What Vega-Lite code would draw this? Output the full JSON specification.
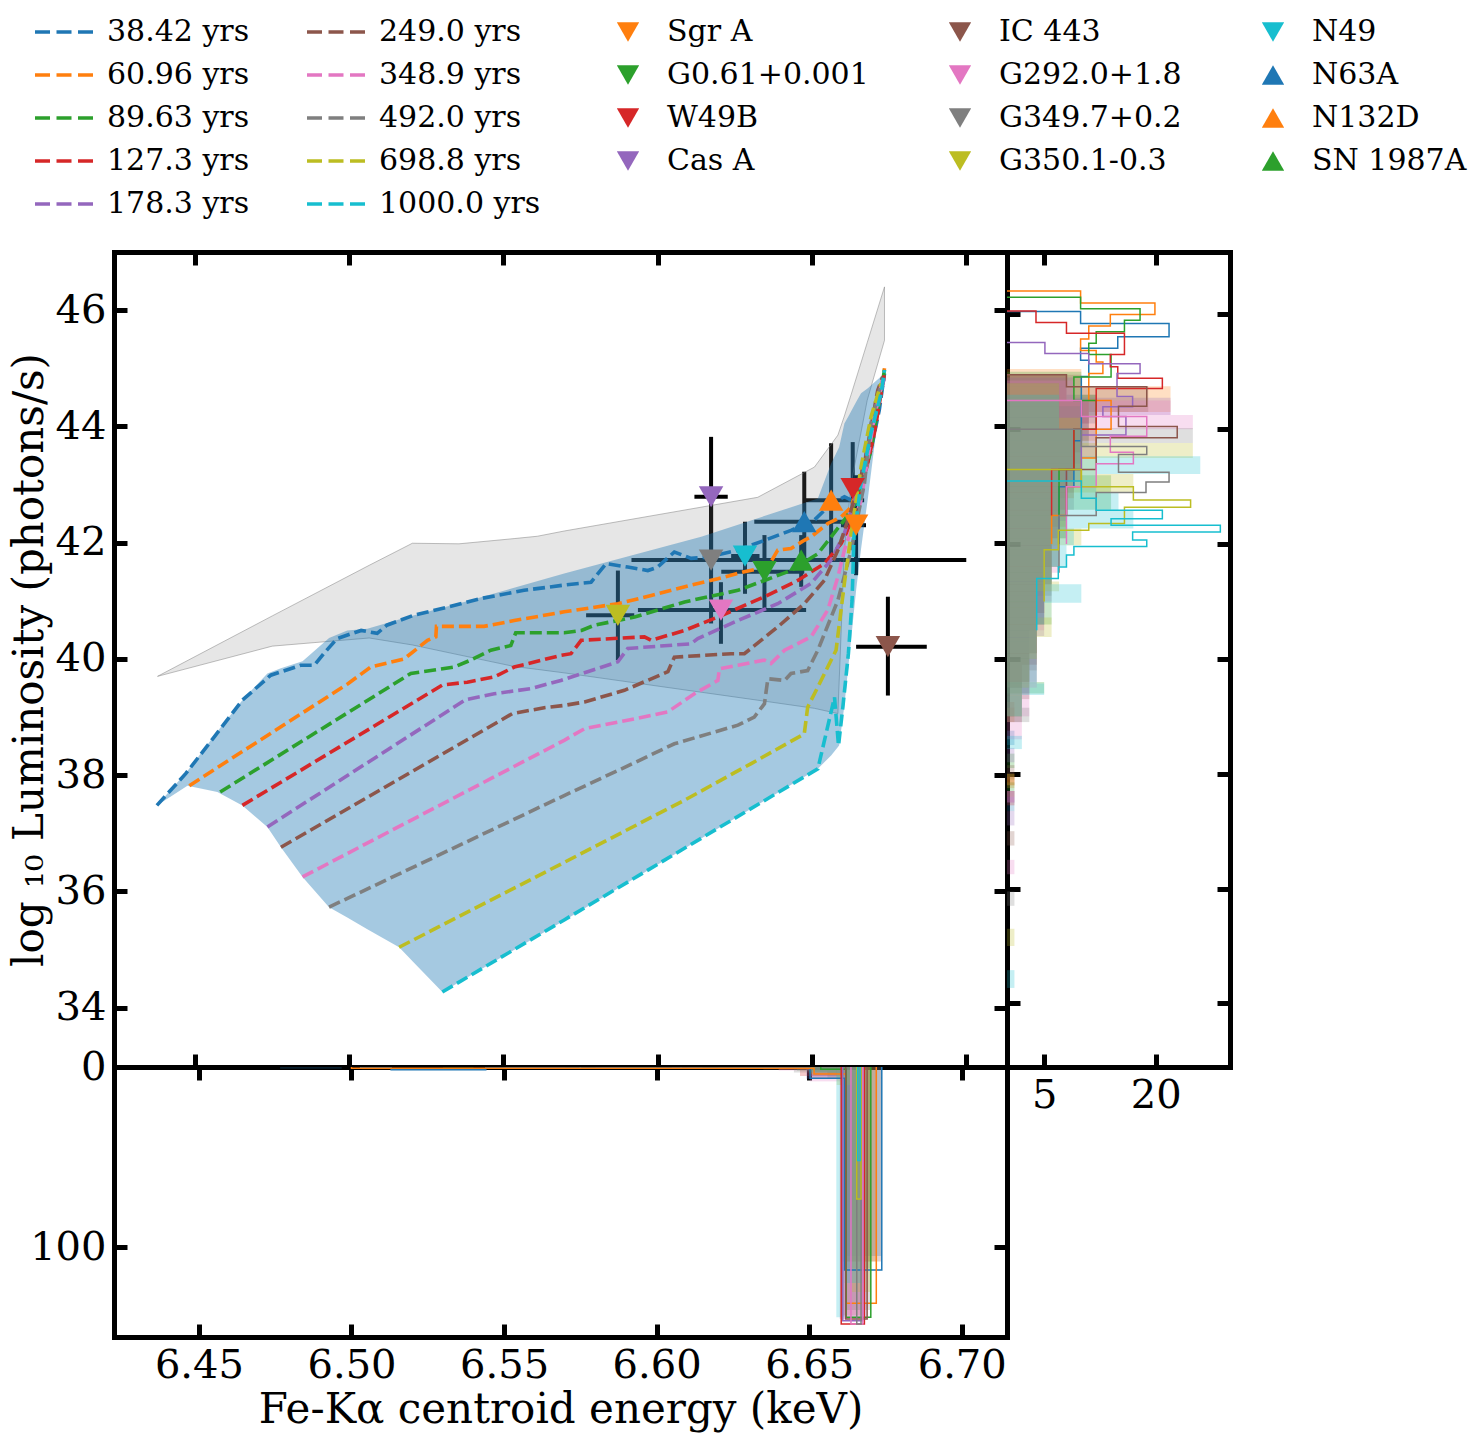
{
"$schema": "https://vega.github.io/schema/vega-lite/v6.json",
"padding": {"left": 8, "top": 17, "right": 5, "bottom": 5},
"background": "white",
"columns": 2,
"spacing": 0,
"bounds": "flush",
"config": {
  "font": "DejaVu Serif",
  "view": {"stroke": null},
  "axis": {"domain": true, "domainColor": "black", "domainWidth": 5, "domainCap": "square", "grid": false, "ticks": true, "tickColor": "black", "tickWidth": 5, "tickSize": -13, "labelFont": "DejaVu Serif", "labelFontSize": 40, "labelColor": "black", "labelPadding": 21, "labelFlush": false, "labelOverlap": false, "titleFont": "DejaVu Serif", "titleFontSize": 42, "titleFontWeight": "normal", "titleColor": "black", "zindex": 1, "minExtent": 0},
  "legend": {"labelFont": "DejaVu Serif", "labelFontSize": 30, "labelColor": "black", "labelLimit": 600, "padding": 0}
},
"datasets": {
"lines": [
{"m":"38.42 yrs","E":6.4377,"L":37.48},{"m":"38.42 yrs","E":6.4471,"L":38.03},{"m":"38.42 yrs","E":6.4563,"L":38.66},{"m":"38.42 yrs","E":6.4654,"L":39.29},{"m":"38.42 yrs","E":6.4746,"L":39.72},{"m":"38.42 yrs","E":6.4843,"L":39.89},{"m":"38.42 yrs","E":6.4887,"L":39.89},{"m":"38.42 yrs","E":6.4919,"L":40.10},{"m":"38.42 yrs","E":6.4961,"L":40.35},{"m":"38.42 yrs","E":6.5039,"L":40.49},{"m":"38.42 yrs","E":6.5091,"L":40.44},{"m":"38.42 yrs","E":6.5122,"L":40.58},{"m":"38.42 yrs","E":6.5209,"L":40.75},{"m":"38.42 yrs","E":6.5319,"L":40.89},{"m":"38.42 yrs","E":6.5428,"L":41.04},{"m":"38.42 yrs","E":6.5567,"L":41.18},{"m":"38.42 yrs","E":6.5697,"L":41.27},{"m":"38.42 yrs","E":6.5784,"L":41.32},{"m":"38.42 yrs","E":6.5833,"L":41.64},{"m":"38.42 yrs","E":6.5903,"L":41.58},{"m":"38.42 yrs","E":6.5968,"L":41.52},{"m":"38.42 yrs","E":6.6000,"L":41.58},{"m":"38.42 yrs","E":6.6054,"L":41.84},{"m":"38.42 yrs","E":6.6108,"L":41.73},{"m":"38.42 yrs","E":6.6162,"L":41.75},{"m":"38.42 yrs","E":6.6260,"L":41.87},{"m":"38.42 yrs","E":6.6346,"L":42.04},{"m":"38.42 yrs","E":6.6432,"L":42.21},{"m":"38.42 yrs","E":6.6508,"L":42.39},{"m":"38.42 yrs","E":6.6562,"L":42.67},{"m":"38.42 yrs","E":6.6605,"L":42.79},{"m":"38.42 yrs","E":6.6627,"L":42.73},{"m":"38.42 yrs","E":6.6659,"L":43.02},{"m":"38.42 yrs","E":6.6691,"L":43.59},{"m":"38.42 yrs","E":6.6718,"L":44.28},{"m":"38.42 yrs","E":6.6735,"L":44.91},
{"m":"60.96 yrs","E":6.4482,"L":37.82},{"m":"60.96 yrs","E":6.4995,"L":39.57},{"m":"60.96 yrs","E":6.5070,"L":39.86},{"m":"60.96 yrs","E":6.5178,"L":40.00},{"m":"60.96 yrs","E":6.5254,"L":40.32},{"m":"60.96 yrs","E":6.5281,"L":40.38},{"m":"60.96 yrs","E":6.5283,"L":40.56},{"m":"60.96 yrs","E":6.5437,"L":40.56},{"m":"60.96 yrs","E":6.5535,"L":40.66},{"m":"60.96 yrs","E":6.5697,"L":40.81},{"m":"60.96 yrs","E":6.5871,"L":40.95},{"m":"60.96 yrs","E":6.5979,"L":41.09},{"m":"60.96 yrs","E":6.6108,"L":41.27},{"m":"60.96 yrs","E":6.6195,"L":41.38},{"m":"60.96 yrs","E":6.6281,"L":41.50},{"m":"60.96 yrs","E":6.6357,"L":41.58},{"m":"60.96 yrs","E":6.6389,"L":41.87},{"m":"60.96 yrs","E":6.6432,"L":41.90},{"m":"60.96 yrs","E":6.6475,"L":42.04},{"m":"60.96 yrs","E":6.6497,"L":42.10},{"m":"60.96 yrs","E":6.6551,"L":42.33},{"m":"60.96 yrs","E":6.6594,"L":42.44},{"m":"60.96 yrs","E":6.6627,"L":42.61},{"m":"60.96 yrs","E":6.6681,"L":43.59},{"m":"60.96 yrs","E":6.6713,"L":44.28},{"m":"60.96 yrs","E":6.6735,"L":45.00},
{"m":"89.63 yrs","E":6.4582,"L":37.71},{"m":"89.63 yrs","E":6.5200,"L":39.75},{"m":"89.63 yrs","E":6.5265,"L":39.80},{"m":"89.63 yrs","E":6.5340,"L":39.86},{"m":"89.63 yrs","E":6.5394,"L":39.98},{"m":"89.63 yrs","E":6.5459,"L":40.15},{"m":"89.63 yrs","E":6.5524,"L":40.23},{"m":"89.63 yrs","E":6.5540,"L":40.45},{"m":"89.63 yrs","E":6.5697,"L":40.45},{"m":"89.63 yrs","E":6.5753,"L":40.49},{"m":"89.63 yrs","E":6.5795,"L":40.58},{"m":"89.63 yrs","E":6.5925,"L":40.72},{"m":"89.63 yrs","E":6.6087,"L":40.98},{"m":"89.63 yrs","E":6.6260,"L":41.18},{"m":"89.63 yrs","E":6.6346,"L":41.35},{"m":"89.63 yrs","E":6.6432,"L":41.52},{"m":"89.63 yrs","E":6.6519,"L":41.81},{"m":"89.63 yrs","E":6.6562,"L":42.10},{"m":"89.63 yrs","E":6.6605,"L":42.39},{"m":"89.63 yrs","E":6.6648,"L":42.73},{"m":"89.63 yrs","E":6.6691,"L":43.59},{"m":"89.63 yrs","E":6.6735,"L":44.97},
{"m":"127.3 yrs","E":6.4654,"L":37.48},{"m":"127.3 yrs","E":6.5302,"L":39.55},{"m":"127.3 yrs","E":6.5383,"L":39.60},{"m":"127.3 yrs","E":6.5470,"L":39.69},{"m":"127.3 yrs","E":6.5535,"L":39.86},{"m":"127.3 yrs","E":6.5686,"L":40.06},{"m":"127.3 yrs","E":6.5719,"L":40.09},{"m":"127.3 yrs","E":6.5752,"L":40.32},{"m":"127.3 yrs","E":6.5957,"L":40.38},{"m":"127.3 yrs","E":6.5979,"L":40.32},{"m":"127.3 yrs","E":6.6087,"L":40.49},{"m":"127.3 yrs","E":6.6195,"L":40.72},{"m":"127.3 yrs","E":6.6346,"L":41.07},{"m":"127.3 yrs","E":6.6454,"L":41.35},{"m":"127.3 yrs","E":6.6540,"L":41.64},{"m":"127.3 yrs","E":6.6594,"L":41.98},{"m":"127.3 yrs","E":6.6627,"L":42.33},{"m":"127.3 yrs","E":6.6670,"L":43.13},{"m":"127.3 yrs","E":6.6702,"L":43.88},{"m":"127.3 yrs","E":6.6735,"L":44.91},
{"m":"178.3 yrs","E":6.4735,"L":37.11},{"m":"178.3 yrs","E":6.5378,"L":39.30},{"m":"178.3 yrs","E":6.5470,"L":39.40},{"m":"178.3 yrs","E":6.5589,"L":39.49},{"m":"178.3 yrs","E":6.5686,"L":39.63},{"m":"178.3 yrs","E":6.5871,"L":39.95},{"m":"178.3 yrs","E":6.5903,"L":40.18},{"m":"178.3 yrs","E":6.6108,"L":40.26},{"m":"178.3 yrs","E":6.6130,"L":40.35},{"m":"178.3 yrs","E":6.6260,"L":40.66},{"m":"178.3 yrs","E":6.6389,"L":40.95},{"m":"178.3 yrs","E":6.6497,"L":41.30},{"m":"178.3 yrs","E":6.6562,"L":41.70},{"m":"178.3 yrs","E":6.6605,"L":42.16},{"m":"178.3 yrs","E":6.6648,"L":42.90},{"m":"178.3 yrs","E":6.6691,"L":43.88},{"m":"178.3 yrs","E":6.6735,"L":44.85},
{"m":"249.0 yrs","E":6.4779,"L":36.76},{"m":"249.0 yrs","E":6.5529,"L":39.06},{"m":"249.0 yrs","E":6.5632,"L":39.16},{"m":"249.0 yrs","E":6.5697,"L":39.20},{"m":"249.0 yrs","E":6.5763,"L":39.26},{"m":"249.0 yrs","E":6.5892,"L":39.46},{"m":"249.0 yrs","E":6.6033,"L":39.78},{"m":"249.0 yrs","E":6.6054,"L":40.03},{"m":"249.0 yrs","E":6.6238,"L":40.09},{"m":"249.0 yrs","E":6.6281,"L":40.09},{"m":"249.0 yrs","E":6.6389,"L":40.55},{"m":"249.0 yrs","E":6.6475,"L":40.95},{"m":"249.0 yrs","E":6.6540,"L":41.35},{"m":"249.0 yrs","E":6.6584,"L":41.87},{"m":"249.0 yrs","E":6.6627,"L":42.56},{"m":"249.0 yrs","E":6.6670,"L":43.36},{"m":"249.0 yrs","E":6.6713,"L":44.62},{"m":"249.0 yrs","E":6.6729,"L":44.85},
{"m":"348.9 yrs","E":6.4849,"L":36.25},{"m":"348.9 yrs","E":6.5697,"L":38.60},{"m":"348.9 yrs","E":6.5763,"L":38.80},{"m":"348.9 yrs","E":6.5925,"L":38.97},{"m":"348.9 yrs","E":6.6033,"L":39.09},{"m":"348.9 yrs","E":6.6119,"L":39.40},{"m":"348.9 yrs","E":6.6195,"L":39.63},{"m":"348.9 yrs","E":6.6200,"L":39.83},{"m":"348.9 yrs","E":6.6260,"L":39.89},{"m":"348.9 yrs","E":6.6346,"L":39.98},{"m":"348.9 yrs","E":6.6367,"L":39.92},{"m":"348.9 yrs","E":6.6411,"L":40.15},{"m":"348.9 yrs","E":6.6497,"L":40.38},{"m":"348.9 yrs","E":6.6551,"L":40.84},{"m":"348.9 yrs","E":6.6584,"L":41.41},{"m":"348.9 yrs","E":6.6605,"L":41.87},{"m":"348.9 yrs","E":6.6659,"L":42.73},{"m":"348.9 yrs","E":6.6702,"L":44.16},{"m":"348.9 yrs","E":6.6729,"L":44.80},
{"m":"492.0 yrs","E":6.4935,"L":35.73},{"m":"492.0 yrs","E":6.5697,"L":37.65},{"m":"492.0 yrs","E":6.5871,"L":38.08},{"m":"492.0 yrs","E":6.6054,"L":38.54},{"m":"492.0 yrs","E":6.6260,"L":38.86},{"m":"492.0 yrs","E":6.6313,"L":39.00},{"m":"492.0 yrs","E":6.6346,"L":39.23},{"m":"492.0 yrs","E":6.6357,"L":39.66},{"m":"492.0 yrs","E":6.6411,"L":39.63},{"m":"492.0 yrs","E":6.6432,"L":39.75},{"m":"492.0 yrs","E":6.6486,"L":39.80},{"m":"492.0 yrs","E":6.6519,"L":40.15},{"m":"492.0 yrs","E":6.6584,"L":41.01},{"m":"492.0 yrs","E":6.6627,"L":41.87},{"m":"492.0 yrs","E":6.6670,"L":43.02},{"m":"492.0 yrs","E":6.6691,"L":44.05},{"m":"492.0 yrs","E":6.6724,"L":44.74},
{"m":"698.8 yrs","E":6.5162,"L":35.04},{"m":"698.8 yrs","E":6.5697,"L":36.50},{"m":"698.8 yrs","E":6.6087,"L":37.57},{"m":"698.8 yrs","E":6.6303,"L":38.20},{"m":"698.8 yrs","E":6.6475,"L":38.71},{"m":"698.8 yrs","E":6.6486,"L":39.17},{"m":"698.8 yrs","E":6.6508,"L":39.40},{"m":"698.8 yrs","E":6.6578,"L":40.15},{"m":"698.8 yrs","E":6.6605,"L":41.30},{"m":"698.8 yrs","E":6.6627,"L":42.16},{"m":"698.8 yrs","E":6.6659,"L":43.30},{"m":"698.8 yrs","E":6.6691,"L":44.16},{"m":"698.8 yrs","E":6.6724,"L":44.74},
{"m":"1000.0 yrs","E":6.5302,"L":34.27},{"m":"1000.0 yrs","E":6.5697,"L":35.51},{"m":"1000.0 yrs","E":6.6519,"L":38.11},{"m":"1000.0 yrs","E":6.6573,"L":39.34},{"m":"1000.0 yrs","E":6.6586,"L":38.51},{"m":"1000.0 yrs","E":6.6600,"L":39.17},{"m":"1000.0 yrs","E":6.6618,"L":40.09},{"m":"1000.0 yrs","E":6.6630,"L":41.01},{"m":"1000.0 yrs","E":6.6636,"L":42.10},{"m":"1000.0 yrs","E":6.6659,"L":43.02},{"m":"1000.0 yrs","E":6.6691,"L":43.88},{"m":"1000.0 yrs","E":6.6724,"L":44.57},{"m":"1000.0 yrs","E":6.6735,"L":44.97}
],
"snr": [
{"s":"Sgr A","E":6.6643,"L":42.30,"Elo":6.6594,"Ehi":6.6675,"Llo":41.44,"Lhi":43.16},
{"s":"G0.61+0.001","E":6.6346,"L":41.50,"Elo":6.6206,"Ehi":6.6475,"Llo":40.81,"Lhi":42.13},
{"s":"W49B","E":6.6632,"L":42.93,"Elo":6.6632,"Ehi":6.6632,"Llo":42.44,"Lhi":43.73},
{"s":"Cas A","E":6.6173,"L":42.79,"Elo":6.6119,"Ehi":6.6227,"Llo":41.76,"Lhi":43.82},
{"s":"IC 443","E":6.6746,"L":40.21,"Elo":6.6643,"Ehi":6.6872,"Llo":39.37,"Lhi":41.07},
{"s":"G292.0+1.8","E":6.6205,"L":40.84,"Elo":6.5936,"Ehi":6.6481,"Llo":40.26,"Lhi":41.32},
{"s":"G349.7+0.2","E":6.6173,"L":41.70,"Elo":6.6108,"Ehi":6.6231,"Llo":40.61,"Lhi":42.79},
{"s":"G350.1-0.3","E":6.5871,"L":40.75,"Elo":6.5768,"Ehi":6.5924,"Llo":39.98,"Lhi":41.52},
{"s":"N49","E":6.6283,"L":41.77,"Elo":6.6238,"Ehi":6.6330,"Llo":41.12,"Lhi":42.36},
{"s":"N63A","E":6.6475,"L":42.36,"Elo":6.6313,"Ehi":6.6616,"Llo":41.60,"Lhi":43.22},
{"s":"N132D","E":6.6562,"L":42.73,"Elo":6.6475,"Ehi":6.6669,"Llo":41.75,"Lhi":43.71},
{"s":"SN 1987A","E":6.6465,"L":41.70,"Elo":6.5915,"Ehi":6.7000,"Llo":41.24,"Lhi":42.13}
],
"bluefill": [
{"E":6.4377,"lo":37.48,"hi":37.48},{"E":6.4476,"lo":37.82,"hi":38.07},{"E":6.4573,"lo":37.71,"hi":38.75},{"E":6.4654,"lo":37.48,"hi":39.29},{"E":6.4735,"lo":37.11,"hi":39.75},{"E":6.4779,"lo":36.76,"hi":39.84},{"E":6.4849,"lo":36.25,"hi":39.96},{"E":6.4935,"lo":35.73,"hi":40.36},{"E":6.4994,"lo":35.55,"hi":40.49},{"E":6.5059,"lo":35.35,"hi":40.52},{"E":6.5162,"lo":35.04,"hi":40.68},{"E":6.5211,"lo":34.77,"hi":40.75},{"E":6.5302,"lo":34.27,"hi":40.88},{"E":6.5373,"lo":34.49,"hi":40.98},{"E":6.5697,"lo":35.50,"hi":41.47},{"E":6.6141,"lo":36.91,"hi":42.10},{"E":6.6519,"lo":38.11,"hi":42.76},{"E":6.6562,"lo":38.34,"hi":43.36},{"E":6.6588,"lo":38.51,"hi":43.64},{"E":6.6605,"lo":39.20,"hi":44.05},{"E":6.6620,"lo":39.98,"hi":44.19},{"E":6.6643,"lo":41.18,"hi":44.42},{"E":6.6659,"lo":41.89,"hi":44.57},{"E":6.6682,"lo":42.80,"hi":44.66},{"E":6.6707,"lo":43.87,"hi":44.78},{"E":6.6735,"lo":44.91,"hi":44.91}
],
"greyfill": [
{"E":6.4379,"lo":39.70,"hi":39.70},{"E":6.4751,"lo":40.22,"hi":40.74},{"E":6.5065,"lo":40.36,"hi":41.61},{"E":6.5205,"lo":40.24,"hi":41.99},{"E":6.5356,"lo":40.07,"hi":41.98},{"E":6.5535,"lo":39.87,"hi":42.07},{"E":6.5610,"lo":39.82,"hi":42.11},{"E":6.5697,"lo":39.76,"hi":42.20},{"E":6.6324,"lo":39.29,"hi":42.78},{"E":6.6508,"lo":39.15,"hi":43.30},{"E":6.6584,"lo":39.06,"hi":43.85},{"E":6.6605,"lo":41.87,"hi":44.18},{"E":6.6627,"lo":43.02,"hi":44.55},{"E":6.6679,"lo":44.45,"hi":45.44},{"E":6.6735,"lo":45.48,"hi":46.40}
],
"rhfill": [
{"m":"38.42 yrs","lo":37.35,"hi":37.6,"n":1},{"m":"38.42 yrs","lo":38.5,"hi":38.75,"n":1},{"m":"38.42 yrs","lo":39.5,"hi":39.9,"n":2},{"m":"38.42 yrs","lo":39.9,"hi":40.5,"n":3},{"m":"38.42 yrs","lo":40.5,"hi":41.1,"n":4},{"m":"38.42 yrs","lo":41.1,"hi":41.6,"n":5},{"m":"38.42 yrs","lo":41.6,"hi":42.1,"n":6},{"m":"38.42 yrs","lo":42.1,"hi":42.6,"n":7},{"m":"38.42 yrs","lo":42.6,"hi":43.1,"n":8},{"m":"38.42 yrs","lo":43.1,"hi":43.6,"n":9},{"m":"38.42 yrs","lo":43.6,"hi":44.1,"n":10},{"m":"38.42 yrs","lo":44.1,"hi":44.6,"n":12},{"m":"38.42 yrs","lo":44.6,"hi":44.95,"n":8},
{"m":"60.96 yrs","lo":37.75,"hi":38.0,"n":1},{"m":"60.96 yrs","lo":38.9,"hi":39.15,"n":1},{"m":"60.96 yrs","lo":39.5,"hi":39.9,"n":2},{"m":"60.96 yrs","lo":39.9,"hi":40.3,"n":4},{"m":"60.96 yrs","lo":40.3,"hi":40.8,"n":4},{"m":"60.96 yrs","lo":40.8,"hi":41.3,"n":5},{"m":"60.96 yrs","lo":41.3,"hi":41.8,"n":6},{"m":"60.96 yrs","lo":41.8,"hi":42.3,"n":6},{"m":"60.96 yrs","lo":42.3,"hi":42.8,"n":8},{"m":"60.96 yrs","lo":42.8,"hi":43.3,"n":9},{"m":"60.96 yrs","lo":43.3,"hi":43.8,"n":10},{"m":"60.96 yrs","lo":43.8,"hi":44.3,"n":12},{"m":"60.96 yrs","lo":44.3,"hi":44.75,"n":22},{"m":"60.96 yrs","lo":44.75,"hi":45.05,"n":10},
{"m":"89.63 yrs","lo":37.6,"hi":37.85,"n":1},{"m":"89.63 yrs","lo":38.1,"hi":38.35,"n":1},{"m":"89.63 yrs","lo":39.4,"hi":39.6,"n":5},{"m":"89.63 yrs","lo":39.6,"hi":40.1,"n":3},{"m":"89.63 yrs","lo":40.1,"hi":40.6,"n":4},{"m":"89.63 yrs","lo":40.6,"hi":41.1,"n":6},{"m":"89.63 yrs","lo":41.1,"hi":41.6,"n":6},{"m":"89.63 yrs","lo":41.6,"hi":42.1,"n":7},{"m":"89.63 yrs","lo":42.1,"hi":42.6,"n":8},{"m":"89.63 yrs","lo":42.6,"hi":43.2,"n":14},{"m":"89.63 yrs","lo":43.2,"hi":43.7,"n":10},{"m":"89.63 yrs","lo":43.7,"hi":44.2,"n":11},{"m":"89.63 yrs","lo":44.2,"hi":44.6,"n":12},{"m":"89.63 yrs","lo":44.6,"hi":45.0,"n":10},
{"m":"127.3 yrs","lo":37.45,"hi":37.7,"n":1},{"m":"127.3 yrs","lo":37.8,"hi":37.95,"n":1},{"m":"127.3 yrs","lo":39.0,"hi":39.25,"n":1},{"m":"127.3 yrs","lo":39.6,"hi":40.1,"n":3},{"m":"127.3 yrs","lo":40.1,"hi":40.6,"n":4},{"m":"127.3 yrs","lo":40.6,"hi":41.1,"n":5},{"m":"127.3 yrs","lo":41.1,"hi":41.6,"n":5},{"m":"127.3 yrs","lo":41.6,"hi":42.1,"n":6},{"m":"127.3 yrs","lo":42.1,"hi":42.6,"n":7},{"m":"127.3 yrs","lo":42.6,"hi":43.1,"n":8},{"m":"127.3 yrs","lo":43.1,"hi":43.6,"n":9},{"m":"127.3 yrs","lo":43.6,"hi":44.1,"n":10},{"m":"127.3 yrs","lo":44.1,"hi":44.5,"n":11},{"m":"127.3 yrs","lo":44.5,"hi":44.95,"n":8},
{"m":"178.3 yrs","lo":37.1,"hi":37.35,"n":1},{"m":"178.3 yrs","lo":37.5,"hi":37.7,"n":1},{"m":"178.3 yrs","lo":38.2,"hi":38.45,"n":1},{"m":"178.3 yrs","lo":39.0,"hi":39.4,"n":2},{"m":"178.3 yrs","lo":39.4,"hi":39.9,"n":3},{"m":"178.3 yrs","lo":39.9,"hi":40.4,"n":4},{"m":"178.3 yrs","lo":40.4,"hi":40.9,"n":5},{"m":"178.3 yrs","lo":40.9,"hi":41.4,"n":5},{"m":"178.3 yrs","lo":41.4,"hi":41.9,"n":6},{"m":"178.3 yrs","lo":41.9,"hi":42.4,"n":7},{"m":"178.3 yrs","lo":42.4,"hi":42.9,"n":8},{"m":"178.3 yrs","lo":42.9,"hi":43.4,"n":9},{"m":"178.3 yrs","lo":43.4,"hi":43.9,"n":10},{"m":"178.3 yrs","lo":43.9,"hi":44.25,"n":11},{"m":"178.3 yrs","lo":44.25,"hi":44.55,"n":22},{"m":"178.3 yrs","lo":44.55,"hi":44.9,"n":9},
{"m":"249.0 yrs","lo":36.75,"hi":37.0,"n":1},{"m":"249.0 yrs","lo":37.9,"hi":38.15,"n":1},{"m":"249.0 yrs","lo":38.9,"hi":39.3,"n":2},{"m":"249.0 yrs","lo":39.3,"hi":39.8,"n":3},{"m":"249.0 yrs","lo":39.8,"hi":40.3,"n":4},{"m":"249.0 yrs","lo":40.3,"hi":40.8,"n":4},{"m":"249.0 yrs","lo":40.8,"hi":41.3,"n":5},{"m":"249.0 yrs","lo":41.3,"hi":41.8,"n":6},{"m":"249.0 yrs","lo":41.8,"hi":42.3,"n":6},{"m":"249.0 yrs","lo":42.3,"hi":42.8,"n":7},{"m":"249.0 yrs","lo":42.8,"hi":43.3,"n":8},{"m":"249.0 yrs","lo":43.3,"hi":43.8,"n":10},{"m":"249.0 yrs","lo":43.8,"hi":44.3,"n":11},{"m":"249.0 yrs","lo":44.3,"hi":44.75,"n":19},{"m":"249.0 yrs","lo":44.75,"hi":44.95,"n":10},
{"m":"348.9 yrs","lo":36.25,"hi":36.5,"n":1},{"m":"348.9 yrs","lo":37.5,"hi":37.7,"n":1},{"m":"348.9 yrs","lo":38.6,"hi":39.0,"n":2},{"m":"348.9 yrs","lo":39.0,"hi":39.5,"n":3},{"m":"348.9 yrs","lo":39.5,"hi":40.0,"n":4},{"m":"348.9 yrs","lo":40.0,"hi":40.5,"n":4},{"m":"348.9 yrs","lo":40.5,"hi":41.0,"n":5},{"m":"348.9 yrs","lo":41.0,"hi":41.5,"n":6},{"m":"348.9 yrs","lo":41.5,"hi":42.0,"n":7},{"m":"348.9 yrs","lo":42.0,"hi":42.5,"n":7},{"m":"348.9 yrs","lo":42.5,"hi":43.0,"n":8},{"m":"348.9 yrs","lo":43.0,"hi":43.5,"n":10},{"m":"348.9 yrs","lo":43.5,"hi":44.0,"n":12},{"m":"348.9 yrs","lo":44.0,"hi":44.25,"n":25},{"m":"348.9 yrs","lo":44.25,"hi":44.5,"n":22},{"m":"348.9 yrs","lo":44.5,"hi":44.85,"n":9},
{"m":"492.0 yrs","lo":35.7,"hi":35.95,"n":1},{"m":"492.0 yrs","lo":38.9,"hi":39.15,"n":3},{"m":"492.0 yrs","lo":39.15,"hi":39.6,"n":2},{"m":"492.0 yrs","lo":39.6,"hi":40.1,"n":4},{"m":"492.0 yrs","lo":40.1,"hi":40.6,"n":4},{"m":"492.0 yrs","lo":40.6,"hi":41.1,"n":5},{"m":"492.0 yrs","lo":41.1,"hi":41.6,"n":6},{"m":"492.0 yrs","lo":41.6,"hi":42.1,"n":7},{"m":"492.0 yrs","lo":42.1,"hi":42.6,"n":8},{"m":"492.0 yrs","lo":42.6,"hi":43.1,"n":9},{"m":"492.0 yrs","lo":43.1,"hi":43.5,"n":10},{"m":"492.0 yrs","lo":43.5,"hi":43.76,"n":12},{"m":"492.0 yrs","lo":43.76,"hi":44.02,"n":25},{"m":"492.0 yrs","lo":44.02,"hi":44.4,"n":10},{"m":"492.0 yrs","lo":44.4,"hi":44.8,"n":7},
{"m":"698.8 yrs","lo":35.0,"hi":35.3,"n":1},{"m":"698.8 yrs","lo":37.8,"hi":38.0,"n":1},{"m":"698.8 yrs","lo":39.0,"hi":39.5,"n":2},{"m":"698.8 yrs","lo":39.5,"hi":40.0,"n":3},{"m":"698.8 yrs","lo":40.0,"hi":40.38,"n":4},{"m":"698.8 yrs","lo":40.38,"hi":40.72,"n":6},{"m":"698.8 yrs","lo":40.72,"hi":41.18,"n":4},{"m":"698.8 yrs","lo":41.18,"hi":41.35,"n":7},{"m":"698.8 yrs","lo":41.35,"hi":41.98,"n":6},{"m":"698.8 yrs","lo":41.98,"hi":42.27,"n":10},{"m":"698.8 yrs","lo":42.27,"hi":42.9,"n":8},{"m":"698.8 yrs","lo":42.9,"hi":43.22,"n":17},{"m":"698.8 yrs","lo":43.22,"hi":43.5,"n":12},{"m":"698.8 yrs","lo":43.5,"hi":43.76,"n":25},{"m":"698.8 yrs","lo":43.76,"hi":44.2,"n":10},{"m":"698.8 yrs","lo":44.2,"hi":44.8,"n":7},
{"m":"1000.0 yrs","lo":34.27,"hi":34.58,"n":1},{"m":"1000.0 yrs","lo":38.43,"hi":38.66,"n":2},{"m":"1000.0 yrs","lo":39.0,"hi":39.37,"n":2},{"m":"1000.0 yrs","lo":39.37,"hi":39.57,"n":5},{"m":"1000.0 yrs","lo":39.57,"hi":40.1,"n":4},{"m":"1000.0 yrs","lo":40.1,"hi":40.6,"n":4},{"m":"1000.0 yrs","lo":40.6,"hi":40.98,"n":5},{"m":"1000.0 yrs","lo":40.98,"hi":41.3,"n":10},{"m":"1000.0 yrs","lo":41.3,"hi":41.61,"n":6},{"m":"1000.0 yrs","lo":41.61,"hi":41.98,"n":8},{"m":"1000.0 yrs","lo":41.98,"hi":42.27,"n":9},{"m":"1000.0 yrs","lo":42.27,"hi":42.59,"n":17},{"m":"1000.0 yrs","lo":42.59,"hi":42.9,"n":15},{"m":"1000.0 yrs","lo":42.9,"hi":43.22,"n":12},{"m":"1000.0 yrs","lo":43.22,"hi":43.53,"n":26},{"m":"1000.0 yrs","lo":43.53,"hi":44.0,"n":10},{"m":"1000.0 yrs","lo":44.0,"hi":44.6,"n":7}
],
"rhstep": [
{"m":"38.42 yrs","L":42.0,"n":7},{"m":"38.42 yrs","L":43.0,"n":9},{"m":"38.42 yrs","L":43.8,"n":10},{"m":"38.42 yrs","L":44.92,"n":11.0},{"m":"38.42 yrs","L":45.20,"n":9.9},{"m":"38.42 yrs","L":45.41,"n":14.9},{"m":"38.42 yrs","L":45.61,"n":21.8},{"m":"38.42 yrs","L":45.84,"n":9.9},{"m":"38.42 yrs","L":46.05,"n":0},
{"m":"60.96 yrs","L":42.0,"n":6},{"m":"60.96 yrs","L":42.5,"n":8},{"m":"60.96 yrs","L":43.0,"n":10},{"m":"60.96 yrs","L":43.5,"n":12},{"m":"60.96 yrs","L":44.0,"n":14},{"m":"60.96 yrs","L":44.5,"n":11},{"m":"60.96 yrs","L":44.97,"n":12.9},{"m":"60.96 yrs","L":45.17,"n":12.0},{"m":"60.96 yrs","L":45.37,"n":9.9},{"m":"60.96 yrs","L":45.57,"n":11.0},{"m":"60.96 yrs","L":45.80,"n":13.9},{"m":"60.96 yrs","L":46.00,"n":19.9},{"m":"60.96 yrs","L":46.20,"n":9.9},{"m":"60.96 yrs","L":46.41,"n":0},
{"m":"89.63 yrs","L":42.5,"n":7},{"m":"89.63 yrs","L":43.3,"n":9},{"m":"89.63 yrs","L":44.0,"n":12},{"m":"89.63 yrs","L":44.5,"n":9},{"m":"89.63 yrs","L":44.91,"n":14},{"m":"89.63 yrs","L":45.30,"n":11.0},{"m":"89.63 yrs","L":45.50,"n":12.0},{"m":"89.63 yrs","L":45.70,"n":15.8},{"m":"89.63 yrs","L":45.90,"n":17.9},{"m":"89.63 yrs","L":46.10,"n":9.9},{"m":"89.63 yrs","L":46.30,"n":0},
{"m":"127.3 yrs","L":42.5,"n":6},{"m":"127.3 yrs","L":43.3,"n":9},{"m":"127.3 yrs","L":44.0,"n":12},{"m":"127.3 yrs","L":44.71,"n":20.9},{"m":"127.3 yrs","L":44.89,"n":14.9},{"m":"127.3 yrs","L":45.09,"n":13.9},{"m":"127.3 yrs","L":45.30,"n":15.8},{"m":"127.3 yrs","L":45.67,"n":8.0},{"m":"127.3 yrs","L":45.86,"n":3.9},{"m":"127.3 yrs","L":46.06,"n":0},
{"m":"178.3 yrs","L":42.5,"n":8},{"m":"178.3 yrs","L":43.3,"n":10},{"m":"178.3 yrs","L":43.9,"n":16},{"m":"178.3 yrs","L":44.22,"n":12.9},{"m":"178.3 yrs","L":44.39,"n":16.9},{"m":"178.3 yrs","L":44.57,"n":14.8},{"m":"178.3 yrs","L":44.97,"n":17.9},{"m":"178.3 yrs","L":45.14,"n":11.0},{"m":"178.3 yrs","L":45.32,"n":5.1},{"m":"178.3 yrs","L":45.51,"n":0},
{"m":"249.0 yrs","L":42.5,"n":8},{"m":"249.0 yrs","L":43.3,"n":12},{"m":"249.0 yrs","L":43.85,"n":22.9},{"m":"249.0 yrs","L":44.05,"n":15},{"m":"249.0 yrs","L":44.4,"n":18.8},{"m":"249.0 yrs","L":44.74,"n":8},{"m":"249.0 yrs","L":44.95,"n":0},
{"m":"348.9 yrs","L":42.0,"n":8},{"m":"348.9 yrs","L":43.0,"n":12},{"m":"348.9 yrs","L":43.4,"n":17},{"m":"348.9 yrs","L":43.6,"n":13.9},{"m":"348.9 yrs","L":43.88,"n":18.8},{"m":"348.9 yrs","L":44.22,"n":10},{"m":"348.9 yrs","L":44.5,"n":0},
{"m":"492.0 yrs","L":41.5,"n":7},{"m":"492.0 yrs","L":42.5,"n":12},{"m":"492.0 yrs","L":42.9,"n":18.7},{"m":"492.0 yrs","L":43.08,"n":21.8},{"m":"492.0 yrs","L":43.25,"n":15},{"m":"492.0 yrs","L":43.56,"n":18.8},{"m":"492.0 yrs","L":43.70,"n":10},{"m":"492.0 yrs","L":44.0,"n":0},
{"m":"698.8 yrs","L":41.0,"n":5},{"m":"698.8 yrs","L":41.9,"n":6.9},{"m":"698.8 yrs","L":42.24,"n":11.0},{"m":"698.8 yrs","L":42.36,"n":15.8},{"m":"698.8 yrs","L":42.64,"n":24.7},{"m":"698.8 yrs","L":42.77,"n":17},{"m":"698.8 yrs","L":43.0,"n":10},{"m":"698.8 yrs","L":43.3,"n":0},
{"m":"1000.0 yrs","L":40.5,"n":4},{"m":"1000.0 yrs","L":41.4,"n":6.9},{"m":"1000.0 yrs","L":41.6,"n":8},{"m":"1000.0 yrs","L":41.81,"n":9.0},{"m":"1000.0 yrs","L":41.96,"n":18.8},{"m":"1000.0 yrs","L":42.07,"n":16.9},{"m":"1000.0 yrs","L":42.21,"n":28.7},{"m":"1000.0 yrs","L":42.33,"n":14},{"m":"1000.0 yrs","L":42.44,"n":20.9},{"m":"1000.0 yrs","L":42.59,"n":12},{"m":"1000.0 yrs","L":42.8,"n":10},{"m":"1000.0 yrs","L":43.1,"n":0}
],
"bhfill": [
{"m":"38.42 yrs","lo":6.4766,"hi":6.4968,"n":1.0},{"m":"38.42 yrs","lo":6.5820,"hi":6.5900,"n":0.8},{"m":"38.42 yrs","lo":6.6250,"hi":6.6380,"n":1.0},{"m":"38.42 yrs","lo":6.6503,"hi":6.6616,"n":5},{"m":"38.42 yrs","lo":6.6616,"hi":6.6738,"n":105},
{"m":"60.96 yrs","lo":6.5033,"hi":6.5130,"n":1.2},{"m":"60.96 yrs","lo":6.5500,"hi":6.5600,"n":0.8},{"m":"60.96 yrs","lo":6.6400,"hi":6.6520,"n":1.5},{"m":"60.96 yrs","lo":6.6520,"hi":6.6621,"n":3},{"m":"60.96 yrs","lo":6.6621,"hi":6.6720,"n":108},
{"m":"89.63 yrs","lo":6.5300,"hi":6.5400,"n":0.8},{"m":"89.63 yrs","lo":6.5900,"hi":6.6000,"n":1},{"m":"89.63 yrs","lo":6.6460,"hi":6.6560,"n":2},{"m":"89.63 yrs","lo":6.6560,"hi":6.6621,"n":4},{"m":"89.63 yrs","lo":6.6621,"hi":6.6702,"n":112},
{"m":"127.3 yrs","lo":6.5600,"hi":6.5700,"n":0.8},{"m":"127.3 yrs","lo":6.6200,"hi":6.6300,"n":1},{"m":"127.3 yrs","lo":6.6470,"hi":6.6605,"n":5},{"m":"127.3 yrs","lo":6.6605,"hi":6.6681,"n":138},
{"m":"178.3 yrs","lo":6.5800,"hi":6.5900,"n":0.8},{"m":"178.3 yrs","lo":6.6300,"hi":6.6400,"n":1},{"m":"178.3 yrs","lo":6.6490,"hi":6.6600,"n":6.5},{"m":"178.3 yrs","lo":6.6600,"hi":6.6690,"n":140},
{"m":"249.0 yrs","lo":6.5900,"hi":6.6000,"n":1},{"m":"249.0 yrs","lo":6.6350,"hi":6.6450,"n":1.5},{"m":"249.0 yrs","lo":6.6503,"hi":6.6605,"n":6},{"m":"249.0 yrs","lo":6.6605,"hi":6.6738,"n":108},
{"m":"348.9 yrs","lo":6.6050,"hi":6.6150,"n":1},{"m":"348.9 yrs","lo":6.6400,"hi":6.6503,"n":2},{"m":"348.9 yrs","lo":6.6503,"hi":6.6605,"n":8},{"m":"348.9 yrs","lo":6.6605,"hi":6.6676,"n":141},
{"m":"492.0 yrs","lo":6.6100,"hi":6.6200,"n":1},{"m":"492.0 yrs","lo":6.6450,"hi":6.6560,"n":3},{"m":"492.0 yrs","lo":6.6560,"hi":6.6620,"n":6},{"m":"492.0 yrs","lo":6.6620,"hi":6.6700,"n":135},
{"m":"698.8 yrs","lo":6.6200,"hi":6.6300,"n":1},{"m":"698.8 yrs","lo":6.6500,"hi":6.6590,"n":4},{"m":"698.8 yrs","lo":6.6590,"hi":6.6640,"n":10},{"m":"698.8 yrs","lo":6.6640,"hi":6.6700,"n":125},
{"m":"1000.0 yrs","lo":6.6300,"hi":6.6400,"n":1},{"m":"1000.0 yrs","lo":6.6500,"hi":6.6589,"n":3},{"m":"1000.0 yrs","lo":6.6589,"hi":6.6616,"n":139},{"m":"1000.0 yrs","lo":6.6616,"hi":6.6680,"n":120}
],
"bhstep": [
{"m":"38.42 yrs","E":6.5030,"n":0},{"m":"38.42 yrs","E":6.5030,"n":0.6},{"m":"38.42 yrs","E":6.5130,"n":1.5},{"m":"38.42 yrs","E":6.5440,"n":0.6},{"m":"38.42 yrs","E":6.5750,"n":0},{"m":"38.42 yrs","E":6.6080,"n":0.6},{"m":"38.42 yrs","E":6.6390,"n":0.6},{"m":"38.42 yrs","E":6.6503,"n":6.3},{"m":"38.42 yrs","E":6.6616,"n":112.8},{"m":"38.42 yrs","E":6.6738,"n":0},
{"m":"60.96 yrs","E":6.5000,"n":0},{"m":"60.96 yrs","E":6.5000,"n":0.7},{"m":"60.96 yrs","E":6.6150,"n":0.7},{"m":"60.96 yrs","E":6.6516,"n":3.9},{"m":"60.96 yrs","E":6.6621,"n":131.3},{"m":"60.96 yrs","E":6.6720,"n":0},
{"m":"89.63 yrs","E":6.6538,"n":0},{"m":"89.63 yrs","E":6.6538,"n":1.2},{"m":"89.63 yrs","E":6.6621,"n":139},{"m":"89.63 yrs","E":6.6702,"n":0},
{"m":"127.3 yrs","E":6.6605,"n":0},{"m":"127.3 yrs","E":6.6605,"n":142.8},{"m":"127.3 yrs","E":6.6681,"n":0},
{"m":"178.3 yrs","E":6.6610,"n":0},{"m":"178.3 yrs","E":6.6610,"n":141},{"m":"178.3 yrs","E":6.6675,"n":0},
{"m":"249.0 yrs","E":6.6620,"n":0},{"m":"249.0 yrs","E":6.6620,"n":140},{"m":"249.0 yrs","E":6.6690,"n":0},
{"m":"348.9 yrs","E":6.6637,"n":0},{"m":"348.9 yrs","E":6.6637,"n":142.8},{"m":"348.9 yrs","E":6.6676,"n":0},
{"m":"492.0 yrs","E":6.6656,"n":0},{"m":"492.0 yrs","E":6.6656,"n":142.8},{"m":"492.0 yrs","E":6.6670,"n":0},
{"m":"698.8 yrs","E":6.6656,"n":0},{"m":"698.8 yrs","E":6.6656,"n":73.3},{"m":"698.8 yrs","E":6.6670,"n":0},
{"m":"1000.0 yrs","E":6.6659,"n":0},{"m":"1000.0 yrs","E":6.6659,"n":52},{"m":"1000.0 yrs","E":6.6667,"n":0}
]
},
"concat": [
{
 "width": 893, "height": 815,
 "layer": [
  {"data": {"name": "snr"}, "mark": {"type": "rule", "color": "black", "strokeWidth": 4},
   "encoding": {
    "x": {"field": "Elo", "type": "quantitative", "scale": {"domain": [6.4238, 6.7132], "nice": false, "zero": false}, "axis": {"orient": "bottom", "values": [6.45,6.5,6.55,6.6,6.65,6.7], "labels": false, "title": null}},
    "x2": {"field": "Ehi"},
    "y": {"field": "L", "type": "quantitative", "scale": {"domain": [32.98, 47.0], "nice": false, "zero": false}, "axis": {"orient": "left", "values": [34,36,38,40,42,44,46], "format": "d", "title": "log ₁₀ Luminosity (photons/s)", "titlePadding": 4}}
   }},
  {"data": {"name": "snr"}, "mark": {"type": "rule", "color": "black", "strokeWidth": 4},
   "encoding": {
    "x": {"field": "E", "type": "quantitative", "axis": {"orient": "top", "values": [6.45,6.5,6.55,6.6,6.65,6.7], "labels": false, "title": null}},
    "y": {"field": "Llo", "type": "quantitative", "axis": {"orient": "right", "values": [34,36,38,40,42,44,46], "labels": false, "title": null}},
    "y2": {"field": "Lhi"}
   }},
  {"data": {"name": "greyfill"}, "mark": {"type": "area", "fill": "#808080", "fillOpacity": 0.2, "stroke": "#808080", "strokeOpacity": 0.5, "strokeWidth": 1},
   "encoding": {
    "x": {"field": "E", "type": "quantitative", "axis": null},
    "y": {"field": "lo", "type": "quantitative", "axis": null},
    "y2": {"field": "hi"}
   }},
  {"data": {"name": "bluefill"}, "mark": {"type": "area", "fill": "#1f77b4", "fillOpacity": 0.4},
   "encoding": {
    "x": {"field": "E", "type": "quantitative", "axis": null},
    "y": {"field": "lo", "type": "quantitative", "axis": null},
    "y2": {"field": "hi"}
   }},
  {"data": {"name": "lines"}, "mark": {"type": "line", "strokeWidth": 3.6, "strokeDash": [12, 5]},
   "encoding": {
    "x": {"field": "E", "type": "quantitative", "axis": null},
    "y": {"field": "L", "type": "quantitative", "axis": null},
    "color": {"field": "m", "type": "nominal",
      "scale": {"domain": ["38.42 yrs","60.96 yrs","89.63 yrs","127.3 yrs","178.3 yrs","249.0 yrs","348.9 yrs","492.0 yrs","698.8 yrs","1000.0 yrs"], "range": ["#1f77b4","#ff7f0e","#2ca02c","#d62728","#9467bd","#8c564b","#e377c2","#7f7f7f","#bcbd22","#17becf"]},
      "legend": {"orient": "none", "legendX": -81, "legendY": -235, "direction": "vertical", "columns": 2, "title": null, "symbolType": "stroke", "symbolSize": 3844, "symbolStrokeWidth": 3.6, "symbolDash": [15, 6.5], "labelOffset": 8, "columnPadding": 55, "rowPadding": 13, "clipHeight": 30}}
   }},
  {"data": {"name": "snr"}, "mark": {"type": "point", "filled": true, "opacity": 1, "size": 600},
   "encoding": {
    "x": {"field": "E", "type": "quantitative", "axis": null},
    "y": {"field": "L", "type": "quantitative", "axis": null},
    "color": {"field": "s", "type": "nominal",
      "scale": {"domain": ["Sgr A","G0.61+0.001","W49B","Cas A","IC 443","G292.0+1.8","G349.7+0.2","G350.1-0.3","N49","N63A","N132D","SN 1987A"], "range": ["#ff7f0e","#2ca02c","#d62728","#9467bd","#8c564b","#e377c2","#7f7f7f","#bcbd22","#17becf","#1f77b4","#ff7f0e","#2ca02c"]},
      "legend": {"orient": "none", "legendX": 499, "legendY": -235, "direction": "vertical", "columns": 3, "title": null, "symbolSize": 500, "symbolOpacity": 1, "symbolStrokeWidth": 0, "labelOffset": 24, "columnPadding": 76, "rowPadding": 13, "clipHeight": 30}},
    "shape": {"field": "s", "type": "nominal",
      "scale": {"domain": ["Sgr A","G0.61+0.001","W49B","Cas A","IC 443","G292.0+1.8","G349.7+0.2","G350.1-0.3","N49","N63A","N132D","SN 1987A"], "range": ["triangle-down","triangle-down","triangle-down","triangle-down","triangle-down","triangle-down","triangle-down","triangle-down","triangle-down","triangle-up","triangle-up","triangle-up"]},
      "legend": {"orient": "none", "legendX": 499, "legendY": -235, "direction": "vertical", "columns": 3, "title": null, "symbolSize": 500, "symbolOpacity": 1, "symbolStrokeWidth": 0, "labelOffset": 24, "columnPadding": 76, "rowPadding": 13, "clipHeight": 30}}
   }}
 ],
 "resolve": {"scale": {"color": "independent", "shape": "independent"}, "axis": {"x": "independent", "y": "independent"}}
},
{
 "width": 223, "height": 815,
 "layer": [
  {"data": {"name": "rhfill"}, "mark": {"type": "bar", "orient": "horizontal", "opacity": 0.25, "clip": true},
   "encoding": {
    "x": {"field": "n", "type": "quantitative", "stack": null, "scale": {"domain": [0, 30], "nice": false, "zero": false}, "axis": {"orient": "bottom", "values": [5, 20], "title": null}},
    "y": {"field": "lo", "type": "quantitative", "scale": {"domain": [32.98, 47.0], "nice": false, "zero": false}, "axis": {"orient": "left", "values": [34,36,38,40,42,44,46], "labels": false, "title": null}},
    "y2": {"field": "hi"},
    "color": {"field": "m", "type": "nominal", "scale": {"domain": ["38.42 yrs","60.96 yrs","89.63 yrs","127.3 yrs","178.3 yrs","249.0 yrs","348.9 yrs","492.0 yrs","698.8 yrs","1000.0 yrs"], "range": ["#1f77b4","#ff7f0e","#2ca02c","#d62728","#9467bd","#8c564b","#e377c2","#7f7f7f","#bcbd22","#17becf"]}, "legend": null}
   }},
  {"data": {"name": "rhstep"}, "mark": {"type": "line", "interpolate": "step-before", "strokeWidth": 1.5, "clip": true},
   "encoding": {
    "x": {"field": "n", "type": "quantitative", "axis": {"orient": "top", "values": [5, 20], "labels": false, "title": null}},
    "y": {"field": "L", "type": "quantitative", "axis": {"orient": "right", "values": [34,36,38,40,42,44,46], "labels": false, "title": null}},
    "order": {"field": "L", "type": "quantitative"},
    "color": {"field": "m", "type": "nominal", "scale": {"domain": ["38.42 yrs","60.96 yrs","89.63 yrs","127.3 yrs","178.3 yrs","249.0 yrs","348.9 yrs","492.0 yrs","698.8 yrs","1000.0 yrs"], "range": ["#1f77b4","#ff7f0e","#2ca02c","#d62728","#9467bd","#8c564b","#e377c2","#7f7f7f","#bcbd22","#17becf"]}, "legend": null}
   }}
 ],
 "resolve": {"axis": {"x": "independent", "y": "independent"}}
},
{
 "width": 893, "height": 270,
 "layer": [
  {"data": {"name": "bhfill"}, "mark": {"type": "bar", "orient": "vertical", "opacity": 0.25, "clip": true},
   "encoding": {
    "x": {"field": "lo", "type": "quantitative", "scale": {"domain": [6.4238, 6.7132], "nice": false, "zero": false}, "axis": {"orient": "bottom", "values": [6.45,6.5,6.55,6.6,6.65,6.7], "format": ".2f", "title": "Fe-Kα centroid energy (keV)", "titlePadding": 4}},
    "x2": {"field": "hi"},
    "y": {"field": "n", "type": "quantitative", "stack": null, "scale": {"domain": [0, 150], "reverse": true, "nice": false, "zero": false}, "axis": {"orient": "left", "values": [0, 100], "title": null}},
    "color": {"field": "m", "type": "nominal", "scale": {"domain": ["38.42 yrs","60.96 yrs","89.63 yrs","127.3 yrs","178.3 yrs","249.0 yrs","348.9 yrs","492.0 yrs","698.8 yrs","1000.0 yrs"], "range": ["#1f77b4","#ff7f0e","#2ca02c","#d62728","#9467bd","#8c564b","#e377c2","#7f7f7f","#bcbd22","#17becf"]}, "legend": null}
   }},
  {"data": {"name": "bhstep"}, "mark": {"type": "line", "interpolate": "step-after", "strokeWidth": 1.5, "clip": true},
   "encoding": {
    "x": {"field": "E", "type": "quantitative", "axis": {"orient": "top", "values": [6.45,6.5,6.55,6.6,6.65,6.7], "labels": false, "title": null}},
    "y": {"field": "n", "type": "quantitative", "axis": {"orient": "right", "values": [0, 100], "labels": false, "title": null}},
    "color": {"field": "m", "type": "nominal", "scale": {"domain": ["38.42 yrs","60.96 yrs","89.63 yrs","127.3 yrs","178.3 yrs","249.0 yrs","348.9 yrs","492.0 yrs","698.8 yrs","1000.0 yrs"], "range": ["#1f77b4","#ff7f0e","#2ca02c","#d62728","#9467bd","#8c564b","#e377c2","#7f7f7f","#bcbd22","#17becf"]}, "legend": null}
   }}
 ],
 "resolve": {"axis": {"x": "independent", "y": "independent"}}
}
]
}
